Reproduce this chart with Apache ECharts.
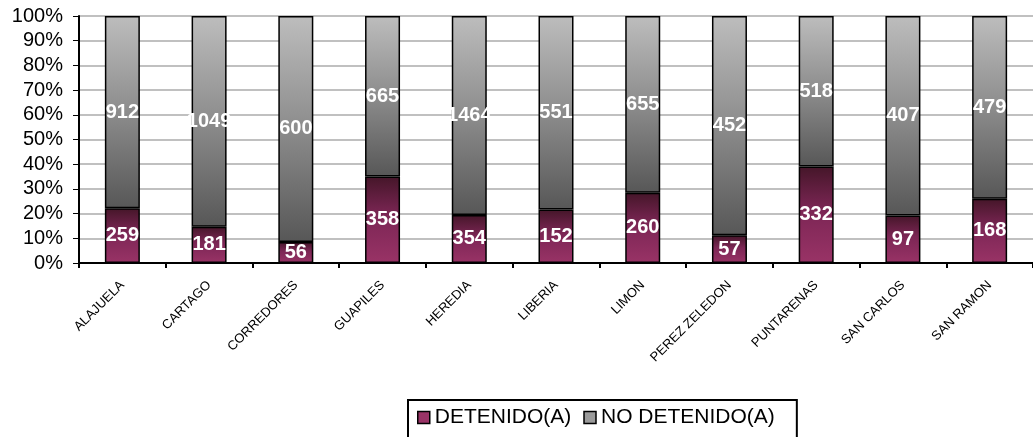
<!DOCTYPE html>
<html><head><meta charset="utf-8">
<script src="https://cdn.jsdelivr.net/npm/echarts@6/dist/echarts.min.js"></script>
<style>html,body{margin:0;padding:0;background:#fff}#c{width:1033px;height:437px}</style>
</head><body><div id="c"></div>
<script>
const categories = ['ALAJUELA','CARTAGO','CORREDORES','GUAPILES','HEREDIA','LIBERIA','LIMON','PEREZ ZELEDON','PUNTARENAS','SAN CARLOS','SAN RAMON'];
const detenido = [259,181,56,358,354,152,260,57,332,97,168];
const noDetenido = [912,1049,600,665,1464,551,655,452,518,407,479];
const yTicks = [0,10,20,30,40,50,60,70,80,90,100];

const totals = detenido.map((v,i)=>v+noDetenido[i]);
const pct = (arr)=>arr.map((v,i)=>({value: v/totals[i]*100, raw: v}));

const maroon = new echarts.graphic.LinearGradient(0,0,0,1,[
  {offset:0,color:'#451629'},{offset:0.45,color:'#7c2655'},{offset:1,color:'#993366'}]);
const gray = new echarts.graphic.LinearGradient(0,0,0,1,[
  {offset:0,color:'#bdbdbd'},{offset:0.5,color:'#8c8c8c'},{offset:1,color:'#575757'}]);

const labelCfg = {show:true, position:'inside', color:'#fff', fontFamily:'Arial, Liberation Sans', fontWeight:'bold', fontSize:20,
  formatter: p => p.data.raw};

const chart = echarts.init(document.getElementById('c'), null, {renderer:'canvas'});
chart.setOption({
  animation:false,
  grid:{left:79, top:16, width:957, bottom:174, containLabel:false},
  legend:{
    left:408, top:400, itemGap:12, itemWidth:12, itemHeight:12, padding:[7,22,12,9],
    borderColor:'#000', borderWidth:2, icon:'rect',
    textStyle:{fontFamily:'Arial, Liberation Sans', fontSize:21, color:'#000', padding:[0,0,0,0]},
    data:[{name:'DETENIDO(A)', itemStyle:{color:'#993366', borderColor:'#000', borderWidth:1.5}},
          {name:'NO DETENIDO(A)', itemStyle:{color:'#9a9a9a', borderColor:'#000', borderWidth:1.5}}]
  },
  xAxis:{type:'category', data:categories, boundaryGap:true,
    axisLine:{lineStyle:{color:'#000', width:2}},
    axisTick:{show:true, length:5, lineStyle:{color:'#000', width:2}, alignWithLabel:false},
    axisLabel:{rotate:45, margin:20, fontFamily:'Arial, Liberation Sans', fontSize:13, color:'#000', interval:0}
  },
  yAxis:{type:'value', min:0, max:100, interval:10,
    axisLine:{show:true, lineStyle:{color:'#000', width:2}},
    axisTick:{show:true, length:6, lineStyle:{color:'#000', width:1}},
    splitLine:{lineStyle:{color:'#c0c0c0', width:2}},
    axisLabel:{fontFamily:'Arial, Liberation Sans', fontSize:20, color:'#000', margin:16,
      formatter: v => yTicks.includes(v) ? v + '%' : ''}
  },
  series:[
    {name:'DETENIDO(A)', type:'bar', stack:'s', barWidth:35, data:pct(detenido),
     itemStyle:{color:maroon, borderColor:'#000', borderWidth:1.5}, label:labelCfg},
    {name:'NO DETENIDO(A)', type:'bar', stack:'s', barWidth:35, data:pct(noDetenido),
     itemStyle:{color:gray, borderColor:'#000', borderWidth:1.5}, label:labelCfg}
  ]
});
</script></body></html>
